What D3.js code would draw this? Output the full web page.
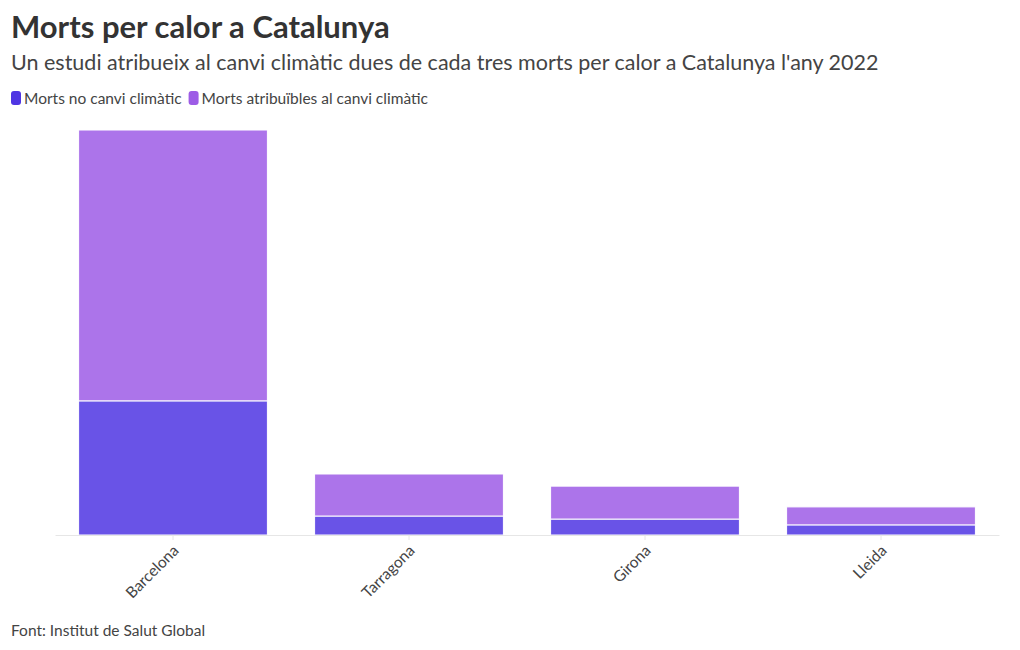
<!DOCTYPE html>
<html>
<head>
<meta charset="utf-8">
<script src="https://cdn.jsdelivr.net/npm/d3@7"></script>
<style>
  body { margin: 0; background: #fff; }
  svg text { font-family: 'Source Sans Pro', Lato, 'Noto Sans', sans-serif; }
</style>
</head>
<body>
<div id="container"></div>
<script>
// Morts per calor a Catalunya 2022 — stacked columns

const provinces = ['Barcelona', 'Tarragona', 'Girona', 'Lleida'];
const mortsNoCanvi = [530, 75, 63, 40];
const mortsCanvi = [1070, 166, 130, 71];
const seriesNames = ['Morts no canvi climàtic', 'Morts atribuïbles al canvi climàtic'];
const seriesColors = ['#4f35e3', '#9d5ce6'];

const W = 1020, H = 650;
const margin = { left: 55, right: 21, top: 130, bottom: 115 };

const svg = d3.select('#container').append('svg')
  .attr('width', W).attr('height', H)
  .style('display', 'block');

// ── Header ─────────────────────────────────────────────
svg.append('text')
  .attr('x', 11).attr('y', 38)
  .attr('font-size', 31).attr('font-weight', 700).attr('fill', '#333')
  .text('Morts per calor a Catalunya');

svg.append('text')
  .attr('x', 11).attr('y', 70)
  .attr('font-size', 21.5).attr('fill', '#444')
  .text("Un estudi atribueix al canvi climàtic dues de cada tres morts per calor a Catalunya l'any 2022");

// ── Legend ─────────────────────────────────────────────
let lx = 11;
seriesNames.forEach((name, i) => {
  const g = svg.append('g').attr('transform', `translate(${lx},91)`);
  g.append('rect').attr('width', 10).attr('height', 14).attr('rx', 3)
    .attr('fill', seriesColors[i]);
  const t = g.append('text').attr('x', 13).attr('y', 12.5)
    .attr('font-size', 15.5).attr('fill', '#444').text(name);
  lx += 13 + t.node().getComputedTextLength() + 7;
});

// ── Scales ─────────────────────────────────────────────
const stacked = d3.stack().keys([0, 1])
  .value((d, k) => d[k])(provinces.map((p, i) => [mortsNoCanvi[i], mortsCanvi[i]]));

const x = d3.scaleBand().domain(provinces)
  .range([margin.left, W - margin.right]).paddingInner(0.2).paddingOuter(0.1);
const y = d3.scaleLinear()
  .domain([0, d3.max(provinces, (p, i) => mortsNoCanvi[i] + mortsCanvi[i])])
  .range([H - margin.bottom, margin.top]);

// ── Bars ───────────────────────────────────────────────
stacked.forEach((layer, k) => {
  svg.append('g').selectAll('rect').data(layer).join('rect')
    .attr('x', (d, i) => x(provinces[i]))
    .attr('y', d => y(d[1]))
    .attr('width', x.bandwidth())
    .attr('height', d => y(d[0]) - y(d[1]))
    .attr('fill', seriesColors[k])
    .attr('fill-opacity', 0.85)
    .attr('stroke', '#fff')
    .attr('stroke-width', 1);
});

// ── X axis ─────────────────────────────────────────────
const xAxis = svg.append('g')
  .attr('transform', `translate(0,${H - margin.bottom})`)
  .call(d3.axisBottom(x).tickSize(5).tickSizeOuter(0).tickPadding(4));
xAxis.select('.domain').attr('stroke', '#e6e6e6');
xAxis.selectAll('.tick line').attr('stroke', '#e6e6e6');
xAxis.selectAll('.tick text')
  .attr('font-size', 15.5).attr('fill', '#444')
  .attr('font-family', "'Source Sans Pro', Lato, 'Noto Sans', sans-serif")
  .attr('text-anchor', 'end')
  .attr('dy', '0.3em')
  .attr('transform', 'translate(-3,7) rotate(-45)');

// ── Source ─────────────────────────────────────────────
svg.append('text')
  .attr('x', 11).attr('y', 636)
  .attr('font-size', 15.5).attr('fill', '#444')
  .text('Font: Institut de Salut Global');
</script>
</body>
</html>
